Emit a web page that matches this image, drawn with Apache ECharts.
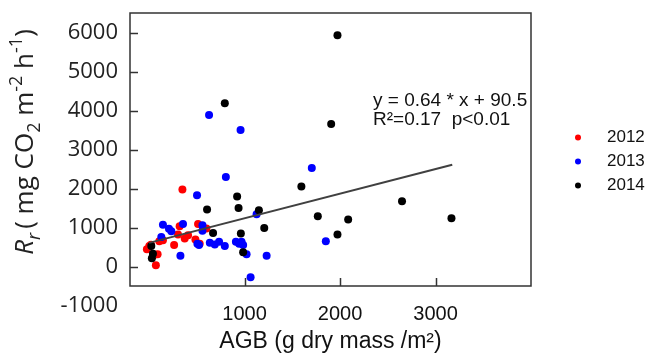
<!DOCTYPE html>
<html>
<head>
<meta charset="utf-8">
<script src="https://cdn.jsdelivr.net/npm/echarts@6/dist/echarts.min.js"></script>
<style>
  html, body { margin: 0; padding: 0; background: #fff; }
  #main { width: 646px; height: 358px; }
</style>
</head>
<body>
<div id="main"></div>
<script>
// AGB (g dry mass /m2) vs Rr, per year
const years = ['2012', '2013', '2014'];
const yearColors = ['#ff0000', '#0000ff', '#000000'];

const data2012 = [
  [349, 1975], [320, 1030], [513, 1089], [600, 975], [303, 819], [408, 802],
  [373, 717], [485, 691], [530, 582], [262, 549], [145, 676], [107, 650],
  [2, 524], [-23, 440], [20, 560], [89, 312], [47, 287], [71, 33]
];
const data2013 = [
  [628, 3882], [958, 3501], [804, 2296], [1704, 2524], [502, 1830], [145, 1071],
  [208, 970], [233, 903], [355, 1089], [128, 759], [559, 1055], [559, 919],
  [328, 278], [506, 582], [523, 549], [636, 608], [688, 565], [733, 633],
  [793, 524], [909, 633], [943, 582], [968, 633], [985, 549], [1021, 312],
  [1063, -278], [1126, 1342], [1231, 278], [1851, 650]
];
const data2014 = [
  [1973, 5932], [793, 4185], [1907, 3653], [1595, 2051], [922, 1797], [937, 1502],
  [607, 1460], [1150, 1443], [1767, 1291], [2085, 1207], [1206, 987], [670, 861],
  [961, 844], [1973, 819], [985, 363], [2649, 1671], [3167, 1240],
  [23, 524], [40, 329], [29, 211]
];
// fitted line as drawn in the figure
const fitLine = [[0, 605], [3175, 2608]];

const xTicks = [1000, 2000, 3000];
const yTicks = [0, 1000, 2000, 3000, 4000, 5000, 6000];
const yExtraLabel = -1000; // printed below the frame in the original

const xMin = -200, xMax = 4000;
const yMin = -500, yMax = 6500;

const chart = echarts.init(document.getElementById('main'));

const sansFont = 'Liberation Sans';
const labelFont = 'Open Sans';
const plain = v => String(v);
const frameColor = '#333';
const tickLen = 8;

const option = {
  animation: false,
  title: {
    text: 'y = 0.64 * x + 90.5\nR²=0.17  p<0.01',
    left: 368,
    top: 86,
    textStyle: { fontFamily: sansFont, fontSize: 19, lineHeight: 19, fontWeight: 'normal', color: '#111' }
  },
  legend: {
    data: years,
    orient: 'vertical',
    left: 570,
    top: 124,
    icon: 'circle',
    itemWidth: 6,
    itemHeight: 6,
    itemGap: 7,
    textStyle: { fontFamily: sansFont, fontSize: 17, color: '#111', padding: [0, 0, 0, 21] }
  },
  grid: { left: 130, right: 115, top: 13, bottom: 69, show: true, borderColor: frameColor, borderWidth: 1.5 },
  xAxis: {
    type: 'value', min: xMin, max: xMax,
    axisLine: { show: false, onZero: false },
    splitLine: { show: false },
    axisTick: { show: false },
    axisLabel: { customValues: xTicks, formatter: plain, margin: 18, fontFamily: sansFont, fontSize: 20, color: '#111' },
    name: 'AGB (g dry mass /m²)',
    nameLocation: 'middle',
    nameGap: 44,
    nameTextStyle: { fontFamily: sansFont, fontSize: 23, color: '#111' }
  },
  yAxis: {
    type: 'value', min: yMin, max: yMax,
    axisLine: { show: false, onZero: false },
    splitLine: { show: false },
    axisTick: { show: false },
    axisLabel: { customValues: yTicks, formatter: plain, margin: 12, fontFamily: labelFont, fontSize: 22, color: '#222' },
    name: '{i|R}{isub|r}{n|( mg CO}{sub|2}{n| m}{sup|-2}{n| h}{sup|-1}{n|)}',
    nameLocation: 'middle',
    nameGap: 86,
    nameTextStyle: {
      padding: [0, 0, 0, 15],
      rich: {
        i: { fontFamily: labelFont, fontStyle: 'italic', fontSize: 26, color: '#222', lineHeight: 36, verticalAlign: 'middle' },
        isub: { fontFamily: labelFont, fontStyle: 'italic', fontSize: 18, color: '#222', lineHeight: 36, verticalAlign: 'bottom', padding: [0, 4, 0, 0] },
        n: { fontFamily: labelFont, fontSize: 26, color: '#222', lineHeight: 36, verticalAlign: 'middle' },
        sub: { fontFamily: labelFont, fontSize: 18, color: '#222', lineHeight: 36, verticalAlign: 'bottom' },
        sup: { fontFamily: labelFont, fontSize: 18, color: '#222', lineHeight: 36, verticalAlign: 'top' }
      }
    }
  },
  series: [
    {
      name: 'fit', type: 'line',
      data: fitLine, symbol: 'none', silent: true,
      lineStyle: { color: '#404040', width: 2 }, z: 3
    },
    {
      name: years[0], type: 'scatter',
      data: data2012, symbolSize: 8, itemStyle: { color: yearColors[0], opacity: 1 }, z: 2
    },
    {
      name: years[1], type: 'scatter',
      data: data2013, symbolSize: 8, itemStyle: { color: yearColors[1], opacity: 1 }, z: 2
    },
    {
      name: years[2], type: 'scatter',
      data: data2014, symbolSize: 8, itemStyle: { color: yearColors[2], opacity: 1 }, z: 2
    }
  ]
};

chart.setOption(option);

// inward ticks on the frame and the -1000 label (outside the axis range),
// placed through the axis scales
const toX = v => chart.convertToPixel({ xAxisIndex: 0 }, v);
const toY = v => chart.convertToPixel({ yAxisIndex: 0 }, v);
const frameLeft = toX(xMin);
const frameBottom = toY(yMin);
const tickStyle = { stroke: frameColor, lineWidth: 1.5 };

const graphics = [];
xTicks.forEach(v => {
  const px = Math.round(toX(v)) + 0.5;
  graphics.push({ type: 'line', z: 10, shape: { x1: px, y1: frameBottom, x2: px, y2: frameBottom - tickLen }, style: tickStyle });
});
yTicks.forEach(v => {
  const py = Math.round(toY(v)) + 0.5;
  graphics.push({ type: 'line', z: 10, shape: { x1: frameLeft, y1: py, x2: frameLeft + tickLen, y2: py }, style: tickStyle });
});
graphics.push({
  type: 'text',
  x: frameLeft - 12,
  y: toY(yExtraLabel),
  style: {
    text: String(yExtraLabel),
    font: '22px "Open Sans"',
    fill: '#222',
    align: 'right',
    verticalAlign: 'middle'
  }
});

chart.setOption({ graphic: graphics });
</script>
</body>
</html>
